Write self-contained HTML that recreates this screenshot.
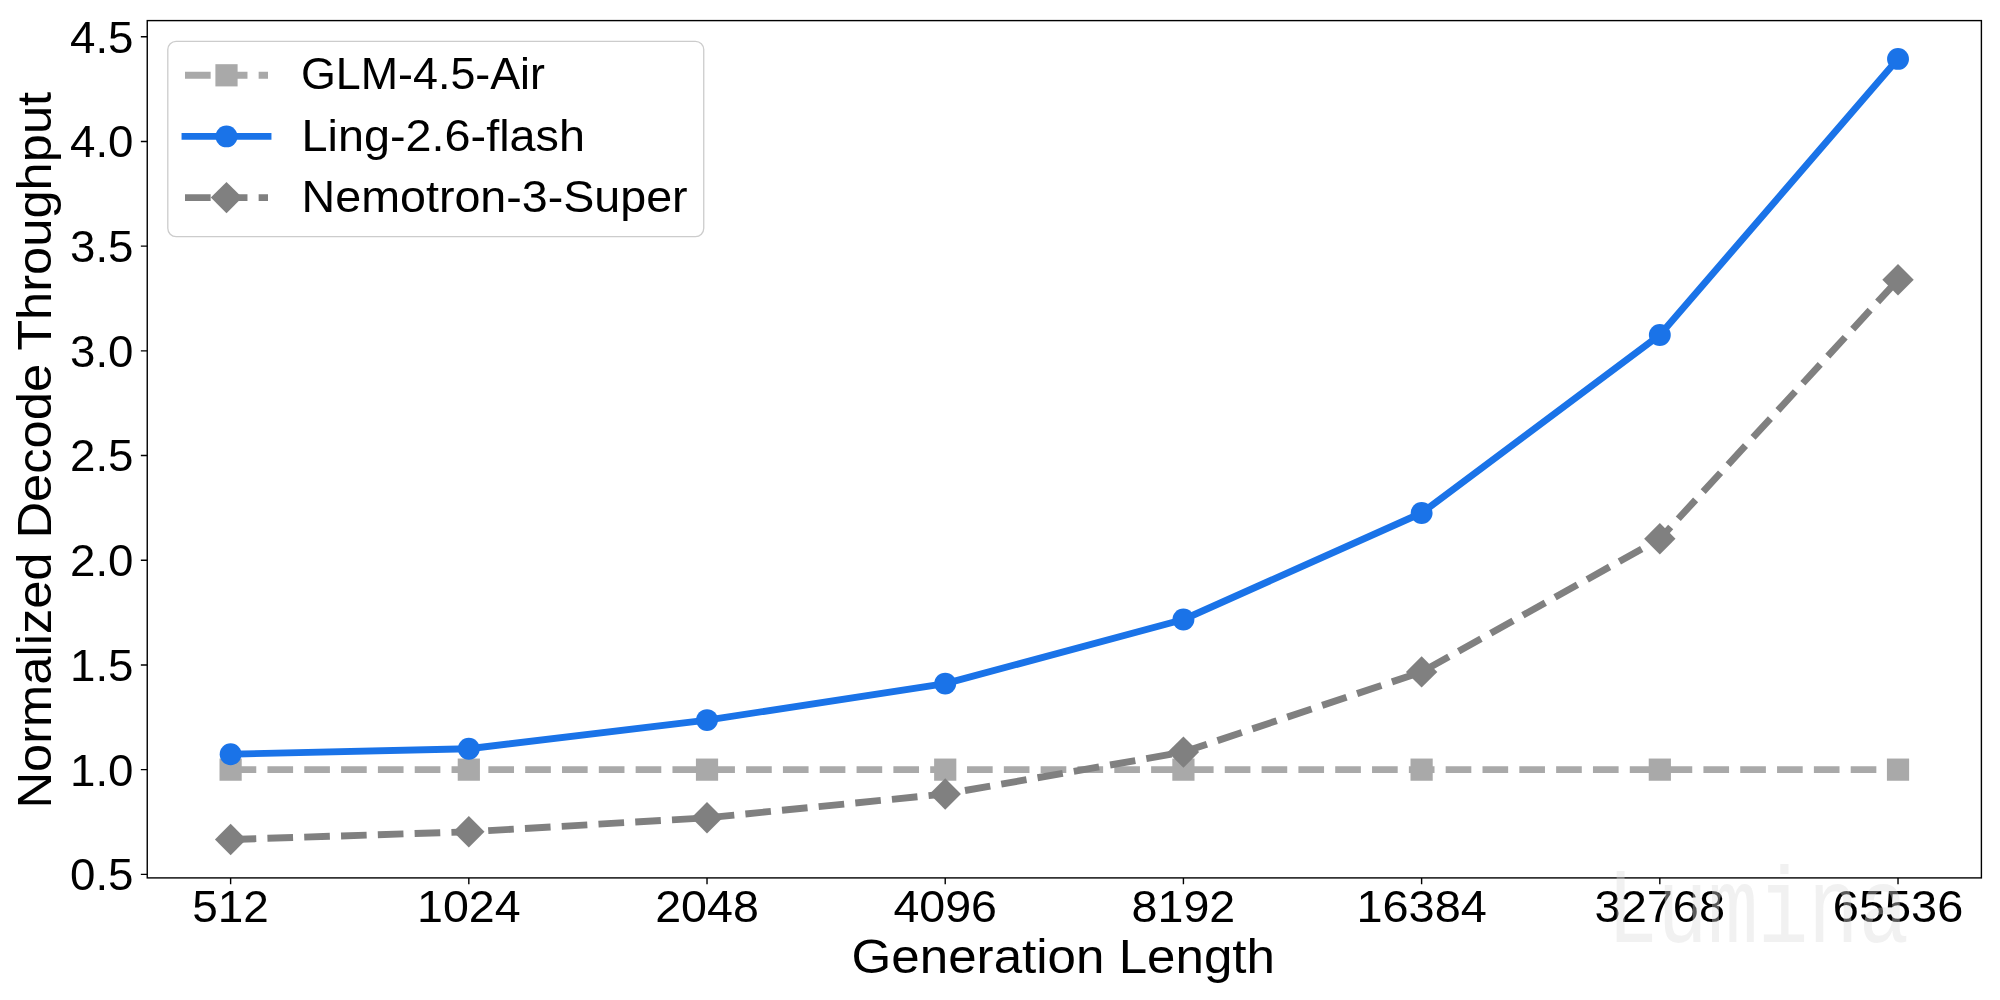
<!DOCTYPE html><html><head><meta charset="utf-8"><style>html,body{margin:0;padding:0;background:#fff;width:2000px;height:1000px;overflow:hidden}svg{display:block;will-change:transform}text{font-family:"Liberation Sans",sans-serif;fill:#000}</style></head><body><svg width="2000" height="1000" viewBox="0 0 2000 1000"><rect x="0" y="0" width="2000" height="1000" fill="#fff"/><defs><clipPath id="ax"><rect x="147.25" y="20.6" width="1834.15" height="857.3"/></clipPath></defs><g clip-path="url(#ax)"><polyline points="230.62,769.65 468.82,769.65 707.02,769.65 945.22,769.65 1183.42,769.65 1421.62,769.65 1659.82,769.65 1898.02,769.65" fill="none" stroke="#a9a9a9" stroke-width="6.9" stroke-dasharray="25.65 11.17" stroke-linecap="butt" stroke-linejoin="round"/><rect x="219.52" y="758.55" width="22.2" height="22.2" fill="#a9a9a9"/><rect x="457.72" y="758.55" width="22.2" height="22.2" fill="#a9a9a9"/><rect x="695.92" y="758.55" width="22.2" height="22.2" fill="#a9a9a9"/><rect x="934.12" y="758.55" width="22.2" height="22.2" fill="#a9a9a9"/><rect x="1172.32" y="758.55" width="22.2" height="22.2" fill="#a9a9a9"/><rect x="1410.52" y="758.55" width="22.2" height="22.2" fill="#a9a9a9"/><rect x="1648.72" y="758.55" width="22.2" height="22.2" fill="#a9a9a9"/><rect x="1886.92" y="758.55" width="22.2" height="22.2" fill="#a9a9a9"/><polyline points="230.62,754.20 468.82,748.80 707.02,720.10 945.22,683.60 1183.42,619.50 1421.62,513.00 1659.82,335.00 1898.02,58.90" fill="none" stroke="#1a73e8" stroke-width="6.9" stroke-linecap="square" stroke-linejoin="round"/><circle cx="230.62" cy="754.20" r="10.95" fill="#1a73e8"/><circle cx="468.82" cy="748.80" r="10.95" fill="#1a73e8"/><circle cx="707.02" cy="720.10" r="10.95" fill="#1a73e8"/><circle cx="945.22" cy="683.60" r="10.95" fill="#1a73e8"/><circle cx="1183.42" cy="619.50" r="10.95" fill="#1a73e8"/><circle cx="1421.62" cy="513.00" r="10.95" fill="#1a73e8"/><circle cx="1659.82" cy="335.00" r="10.95" fill="#1a73e8"/><circle cx="1898.02" cy="58.90" r="10.95" fill="#1a73e8"/><polyline points="230.62,839.50 468.82,831.80 707.02,817.80 945.22,794.00 1183.42,752.10 1421.62,671.90 1659.82,538.80 1898.02,279.80" fill="none" stroke="#808080" stroke-width="6.9" stroke-dasharray="25.65 11.17" stroke-linecap="butt" stroke-linejoin="round"/><path d="M230.62 823.80L246.32 839.50L230.62 855.20L214.92 839.50Z" fill="#808080"/><path d="M468.82 816.10L484.52 831.80L468.82 847.50L453.12 831.80Z" fill="#808080"/><path d="M707.02 802.10L722.72 817.80L707.02 833.50L691.32 817.80Z" fill="#808080"/><path d="M945.22 778.30L960.92 794.00L945.22 809.70L929.52 794.00Z" fill="#808080"/><path d="M1183.42 736.40L1199.12 752.10L1183.42 767.80L1167.72 752.10Z" fill="#808080"/><path d="M1421.62 656.20L1437.32 671.90L1421.62 687.60L1405.92 671.90Z" fill="#808080"/><path d="M1659.82 523.10L1675.52 538.80L1659.82 554.50L1644.12 538.80Z" fill="#808080"/><path d="M1898.02 264.10L1913.72 279.80L1898.02 295.50L1882.32 279.80Z" fill="#808080"/></g><rect x="147.25" y="20.6" width="1834.15" height="857.30" fill="none" stroke="#000" stroke-width="1.4"/><path d="M230.62 877.90V884.30M468.82 877.90V884.30M707.02 877.90V884.30M945.22 877.90V884.30M1183.42 877.90V884.30M1421.62 877.90V884.30M1659.82 877.90V884.30M1898.02 877.90V884.30M140.85 874.35H147.25M140.85 769.65H147.25M140.85 664.95H147.25M140.85 560.25H147.25M140.85 455.55H147.25M140.85 350.85H147.25M140.85 246.15H147.25M140.85 141.45H147.25M140.85 36.75H147.25" stroke="#000" stroke-width="1.4" fill="none"/><text x="133.5" y="890.25" font-size="44.0" text-anchor="end" textLength="63.5" lengthAdjust="spacingAndGlyphs">0.5</text><text x="133.5" y="785.55" font-size="44.0" text-anchor="end" textLength="63.5" lengthAdjust="spacingAndGlyphs">1.0</text><text x="133.5" y="680.85" font-size="44.0" text-anchor="end" textLength="63.5" lengthAdjust="spacingAndGlyphs">1.5</text><text x="133.5" y="576.15" font-size="44.0" text-anchor="end" textLength="63.5" lengthAdjust="spacingAndGlyphs">2.0</text><text x="133.5" y="471.45" font-size="44.0" text-anchor="end" textLength="63.5" lengthAdjust="spacingAndGlyphs">2.5</text><text x="133.5" y="366.75" font-size="44.0" text-anchor="end" textLength="63.5" lengthAdjust="spacingAndGlyphs">3.0</text><text x="133.5" y="262.05" font-size="44.0" text-anchor="end" textLength="63.5" lengthAdjust="spacingAndGlyphs">3.5</text><text x="133.5" y="157.35" font-size="44.0" text-anchor="end" textLength="63.5" lengthAdjust="spacingAndGlyphs">4.0</text><text x="133.5" y="52.65" font-size="44.0" text-anchor="end" textLength="63.5" lengthAdjust="spacingAndGlyphs">4.5</text><text x="230.62" y="922.2" font-size="44.0" text-anchor="middle" textLength="76.6" lengthAdjust="spacingAndGlyphs">512</text><text x="468.82" y="922.2" font-size="44.0" text-anchor="middle" textLength="103.6" lengthAdjust="spacingAndGlyphs">1024</text><text x="707.02" y="922.2" font-size="44.0" text-anchor="middle" textLength="103.6" lengthAdjust="spacingAndGlyphs">2048</text><text x="945.22" y="922.2" font-size="44.0" text-anchor="middle" textLength="103.6" lengthAdjust="spacingAndGlyphs">4096</text><text x="1183.42" y="922.2" font-size="44.0" text-anchor="middle" textLength="103.6" lengthAdjust="spacingAndGlyphs">8192</text><text x="1421.62" y="922.2" font-size="44.0" text-anchor="middle" textLength="130.4" lengthAdjust="spacingAndGlyphs">16384</text><text x="1659.82" y="922.2" font-size="44.0" text-anchor="middle" textLength="130.4" lengthAdjust="spacingAndGlyphs">32768</text><text x="1898.02" y="922.2" font-size="44.0" text-anchor="middle" textLength="130.4" lengthAdjust="spacingAndGlyphs">65536</text><text x="1063.3" y="973" font-size="48.5" text-anchor="middle" textLength="423.4" lengthAdjust="spacingAndGlyphs">Generation Length</text><text transform="translate(51.3 450.2) rotate(-90)" x="0" y="0" font-size="48" text-anchor="middle" textLength="716.6" lengthAdjust="spacingAndGlyphs">Normalized Decode Throughput</text><rect x="167.8" y="41.3" width="535.95" height="195.3" rx="8.3" ry="8.3" fill="#fff" fill-opacity="0.8" stroke="#cccccc" stroke-width="1.3"/><path d="M185 75.3H268" stroke="#a9a9a9" stroke-width="6.9" stroke-dasharray="25.65 11.17" fill="none"/><rect x="215.4" y="64.2" width="22.2" height="22.2" fill="#a9a9a9"/><path d="M185 136.4H268" stroke="#1a73e8" stroke-width="6.9" stroke-linecap="square" fill="none"/><circle cx="226.5" cy="136.4" r="10.95" fill="#1a73e8"/><path d="M185 197.6H268" stroke="#808080" stroke-width="6.9" stroke-dasharray="25.65 11.17" fill="none"/><path d="M226.5 181.9L242.2 197.6L226.5 213.29999999999998L210.8 197.6Z" fill="#808080"/><text x="301.0" y="89.2" font-size="44.0" textLength="244.0" lengthAdjust="spacingAndGlyphs">GLM-4.5-Air</text><text x="301.6" y="150.8" font-size="44.0" textLength="283.4" lengthAdjust="spacingAndGlyphs">Ling-2.6-flash</text><text x="301.6" y="212.0" font-size="44.0" textLength="386.0" lengthAdjust="spacingAndGlyphs">Nemotron-3-Super</text><text x="1607" y="942.2" font-size="108" style="font-family:&quot;Liberation Mono&quot;,monospace;fill:rgba(219,219,219,0.4)" textLength="302" lengthAdjust="spacingAndGlyphs">Lumina</text></svg></body></html>
